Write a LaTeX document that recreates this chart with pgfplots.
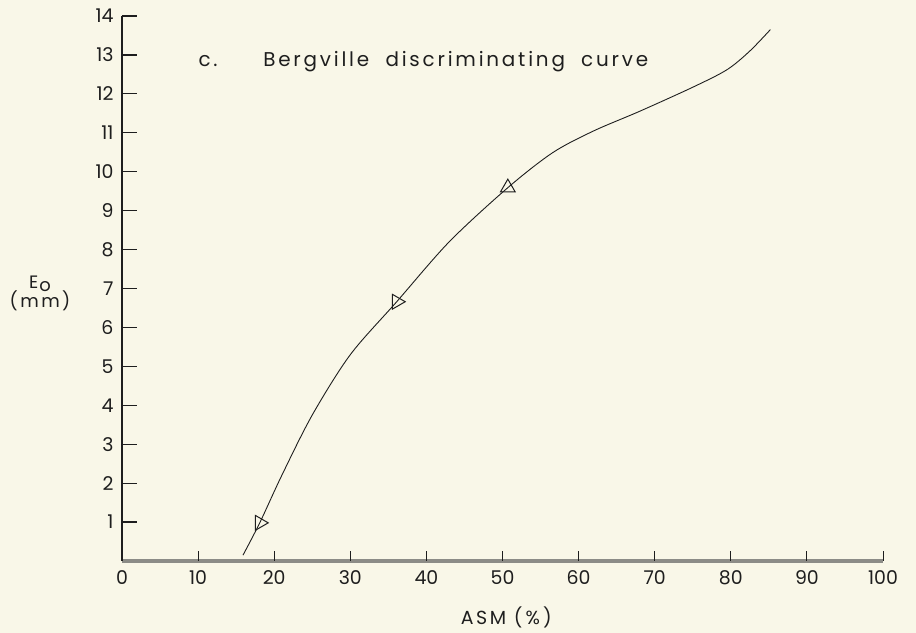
\documentclass[border=0pt]{standalone}
\usepackage{fontspec}
\setmainfont{Poppins}
\newfontfamily\hand[LetterSpace=14]{Poppins}
\usepackage{pgfplots}
\pgfplotsset{compat=1.18}
\definecolor{paper}{RGB}{249,247,232}
\definecolor{ink}{RGB}{30,30,30}
\definecolor{xaxisgray}{RGB}{140,140,135}
\begin{document}
\begin{tikzpicture}[x=1bp,y=1bp]
\useasboundingbox (-122,-72) rectangle (794,561);
\fill[paper] (-122,-72) rectangle (794,561);
\begin{axis}[
  at={(0,0)}, anchor=origin,
  scale only axis, width=761bp, height=545bp,
  xmin=0, xmax=100, ymin=0, ymax=14,
  axis lines*=left,
  clip=false,
  x axis line style={xaxisgray, line width=3.5bp},
  y axis line style={ink, line width=2.5bp},
  xtick={0,10,...,100},
  ytick={1,2,...,14},
  tick align=inside,
  major tick length=15bp,
  xtick style={draw=none},
  ytick style={ink, line width=1.2pt},
  xticklabel style={yshift=-6bp},
  yticklabel style={xshift=-5bp},
  tick label style={font=\fontsize{19}{22}\selectfont, text=ink},
  /pgf/number format/assume math mode=true,
  /pgf/number format/1000 sep={},
]
\pgfplotsinvokeforeach{10,20,...,100}{
  \draw[ink, line width=1pt] (axis cs:#1,0) -- (axis cs:#1,0.25);
}
\addplot[ink, line width=0.9pt, smooth] coordinates {
 (15.9,0.15) (18.1,0.98) (21,2.2) (25,3.75) (30,5.3) (36.1,6.66)
 (43,8.2) (50.7,9.59) (56.6,10.49) (62,11.05) (68,11.55) (75,12.17)
 (79.5,12.62) (82.5,13.1) (85.2,13.65)
};
\addplot[only marks, mark=triangle, mark size=8.5bp,
  mark options={rotate=-90, draw=ink, fill=paper, line width=1pt}]
  coordinates {(18.1,0.98) (36.1,6.66)};
\addplot[only marks, mark=triangle, mark size=8.5bp,
  mark options={draw=ink, fill=paper, line width=1pt}]
  coordinates {(50.7,9.59)};
\node[anchor=base west, text=ink, font=\hand\fontsize{20}{22}\selectfont]
  at (axis cs:9.6,12.69) {c.};
\node[anchor=base west, text=ink, font=\hand\fontsize{20}{22}\selectfont]
  at (axis cs:18.1,12.69) {Bergville\ \ discriminating\ \ curve};
\node[anchor=base, text=ink, font=\fontsize{18}{21}\selectfont]
  at (axis cs:0,7.0) [xshift=-82bp] {E\kern1pt\raisebox{-3pt}{o}};
\node[anchor=base, text=ink, font=\hand\fontsize{18}{21}\selectfont]
  at (axis cs:0,6.5) [xshift=-82bp] {(mm)};
\node[text=ink, font=\hand\fontsize{19}{22}\selectfont]
  at (axis cs:50.5,0) [yshift=-56bp] {ASM\ (\,\%\,)};
\end{axis}
\end{tikzpicture}
\end{document}
